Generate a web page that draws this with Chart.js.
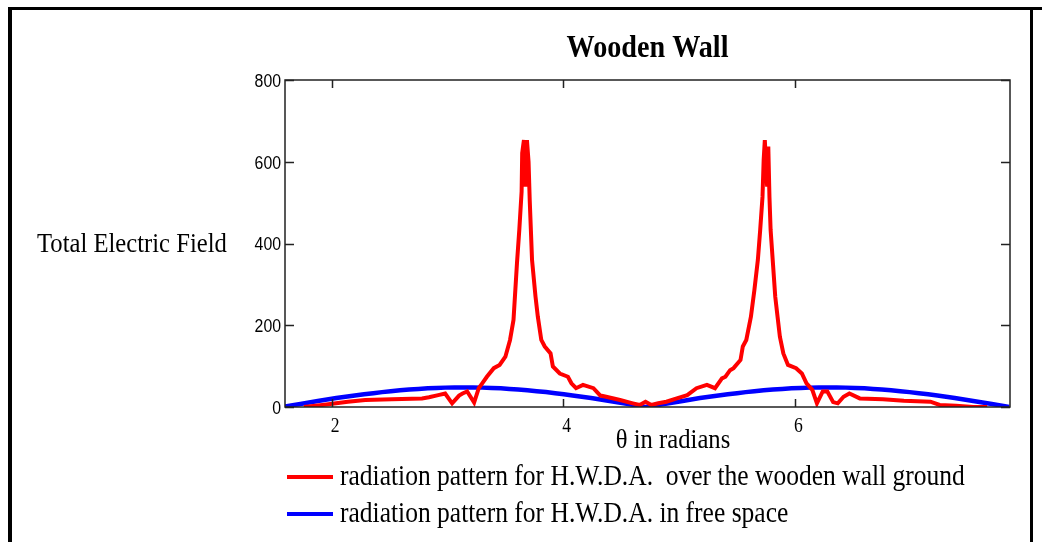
<!DOCTYPE html>
<html>
<head>
<meta charset="utf-8">
<script src="https://cdn.jsdelivr.net/npm/chart.js@4.4.1/dist/chart.umd.min.js"></script>
<style>
  html, body { margin: 0; padding: 0; background: #fff; }
  canvas { display: block; }
</style>
</head>
<body>
<canvas id="wallChart" width="1042" height="542"></canvas>
<script>
// values
const thetaRed = [1.76, 1.92, 2.14, 2.29, 2.52, 2.78, 2.84, 2.92, 2.98, 3.04, 3.10, 3.13, 3.17, 3.23, 3.27, 3.30,
  3.34, 3.40, 3.45, 3.50, 3.54, 3.57, 3.60, 3.62, 3.64, 3.645, 3.66, 3.675, 3.686, 3.70, 3.71, 3.73,
  3.76, 3.78, 3.81, 3.84, 3.89, 3.91, 3.97, 4.04, 4.07, 4.11, 4.17, 4.26, 4.32, 4.37, 4.49, 4.60,
  4.66, 4.71, 4.76, 4.82, 4.89, 4.98, 5.07, 5.15, 5.24, 5.31, 5.37, 5.40, 5.44, 5.47, 5.53, 5.55,
  5.58, 5.62, 5.65, 5.68, 5.70, 5.72, 5.73, 5.74, 5.76, 5.77, 5.78, 5.79, 5.81, 5.83, 5.85, 5.87,
  5.90, 5.94, 6.01, 6.06, 6.10, 6.15, 6.19, 6.24, 6.28, 6.33, 6.37, 6.42, 6.47, 6.56, 6.76, 6.94,
  7.17, 7.25, 7.39, 7.54, 7.66];
const fieldRed = [0, 5, 13, 17, 19, 21, 24, 29, 33, 9, 28, 33, 38, 11, 46, 58,
  74, 95, 103, 123, 164, 213, 352, 433, 527, 621, 653, 539, 653, 600, 506, 360,
  270, 221, 164, 148, 131, 99, 82, 74, 58, 46, 54, 46, 28, 25, 17, 9,
  5, 13, 5, 9, 13, 21, 29, 46, 54, 46, 70, 74, 90, 95, 115, 148,
  164, 221, 286, 360, 433, 514, 604, 653, 539, 637, 514, 433, 352, 270, 221, 172,
  131, 103, 95, 82, 58, 42, 9, 38, 38, 12, 9, 25, 33, 21, 19, 15,
  13, 5, 3, 0, 0];

const thetaBlue = [1.57, 1.73, 1.88, 2.04, 2.20, 2.36, 2.51, 2.67, 2.83, 2.98, 3.14, 3.30, 3.46, 3.61,
  3.77, 3.93, 4.08, 4.24, 4.40, 4.56, 4.71, 4.87, 5.03, 5.18, 5.34, 5.50, 5.65, 5.81, 5.97, 6.13,
  6.28, 6.44, 6.60, 6.75, 6.91, 7.07, 7.23, 7.38, 7.54, 7.70, 7.85];
const fieldBlue = [0, 7.5, 14.8, 21.8, 28.2, 33.9, 38.8, 42.8, 45.6, 47.4, 48, 47.4, 45.6, 42.8,
  38.8, 33.9, 28.2, 21.8, 14.8, 7.5, 0, 7.5, 14.8, 21.8, 28.2, 33.9, 38.8, 42.8, 45.6, 47.4,
  48, 47.4, 45.6, 42.8, 38.8, 33.9, 28.2, 21.8, 14.8, 7.5, 0];

const xTicks = [2, 4, 6];
const yTicks = [0, 200, 400, 600, 800];
const seriesNames = [
  'radiation pattern for H.W.D.A.  over the wooden wall ground',
  'radiation pattern for H.W.D.A. in free space'
];

const SERIF = "'Liberation Serif', 'Times New Roman', serif";
const SX = 0.88; // the screenshot text is a bit squeezed sideways

function txt(ctx, s, x, y, font, align, base) {
  ctx.save();
  ctx.font = font;
  ctx.fillStyle = '#000';
  ctx.textAlign = align || 'left';
  ctx.textBaseline = base || 'middle';
  ctx.translate(x, y);
  ctx.scale(SX, 1);
  ctx.fillText(s, 0, 0);
  ctx.restore();
}

// frame, inward ticks, labels and legend in the Mathcad look
const decor = {
  id: 'decor',
  afterDraw(chart) {
    const { ctx, chartArea: a, scales: { x, y } } = chart;
    ctx.save();

    // outer page border
    ctx.fillStyle = '#000';
    ctx.fillRect(8, 7, 1034, 3);
    ctx.fillRect(8, 7, 4, 535);
    ctx.fillRect(1030, 7, 3, 535);

    // plot frame
    ctx.strokeStyle = '#222';
    ctx.lineWidth = 1.5;
    ctx.strokeRect(a.left, a.top, a.right - a.left, a.bottom - a.top);

    ctx.beginPath();
    yTicks.forEach(v => {
      const py = Math.round(y.getPixelForValue(v)) + 0.5;
      ctx.moveTo(a.left, py); ctx.lineTo(a.left + 9, py);
      ctx.moveTo(a.right, py); ctx.lineTo(a.right - 9, py);
    });
    xTicks.forEach(v => {
      const px = Math.round(x.getPixelForValue(v)) + 0.5;
      ctx.moveTo(px, a.bottom); ctx.lineTo(px, a.bottom - 8);
      ctx.moveTo(px, a.top); ctx.lineTo(px, a.top + 8);
    });
    ctx.stroke();

    // tick labels
    yTicks.forEach(v => {
      txt(ctx, String(v), a.left - 4, y.getPixelForValue(v) + 2, "18px 'Liberation Sans', Arial, sans-serif", 'right');
    });
    xTicks.forEach(v => {
      txt(ctx, String(v), x.getPixelForValue(v) - 1, a.bottom + 20, '20px ' + SERIF, 'left');
    });

    // titles
    txt(ctx, 'Wooden Wall', (a.left + a.right) / 2, 57, 'bold 32px ' + SERIF, 'center', 'alphabetic');
    txt(ctx, 'Total Electric Field', 37, 252, '28px ' + SERIF, 'left', 'alphabetic');
    txt(ctx, '\u03b8 in radians', 673, 441, '28px ' + SERIF, 'center');

    // legend
    chart.data.datasets.forEach((ds, i) => {
      const ly = 477 + i * 37;
      ctx.strokeStyle = ds.borderColor;
      ctx.lineWidth = 4;
      ctx.beginPath();
      ctx.moveTo(287, ly); ctx.lineTo(333, ly);
      ctx.stroke();
      txt(ctx, ds.label, 340, ly, '29px ' + SERIF, 'left');
    });

    ctx.restore();
  }
};

document.addEventListener('DOMContentLoaded', () => {
  const ctx = document.getElementById('wallChart').getContext('2d');

  new Chart(ctx, {
    type: 'line',
    data: {
      datasets: [{
        label: seriesNames[0],
        data: thetaRed.map((t, i) => ({ x: t, y: fieldRed[i] })),
        borderColor: '#ff0000',
        borderWidth: 4,
        pointRadius: 0,
        tension: 0
      }, {
        label: seriesNames[1],
        data: thetaBlue.map((t, i) => ({ x: t, y: fieldBlue[i] })),
        borderColor: '#0000ff',
        borderWidth: 4.5,
        pointRadius: 0,
        tension: 0.2
      }]
    },
    options: {
      responsive: false,
      animation: false,
      devicePixelRatio: 1,
      layout: { padding: { left: 285, top: 80, right: 32, bottom: 135 } },
      plugins: { legend: { display: false }, title: { display: false }, tooltip: { enabled: false } },
      scales: {
        x: { type: 'linear', min: 1.597, max: 7.857, display: false },
        y: { min: 0, max: 800, display: false }
      }
    },
    plugins: [decor]
  });
});
</script>
</body>
</html>
